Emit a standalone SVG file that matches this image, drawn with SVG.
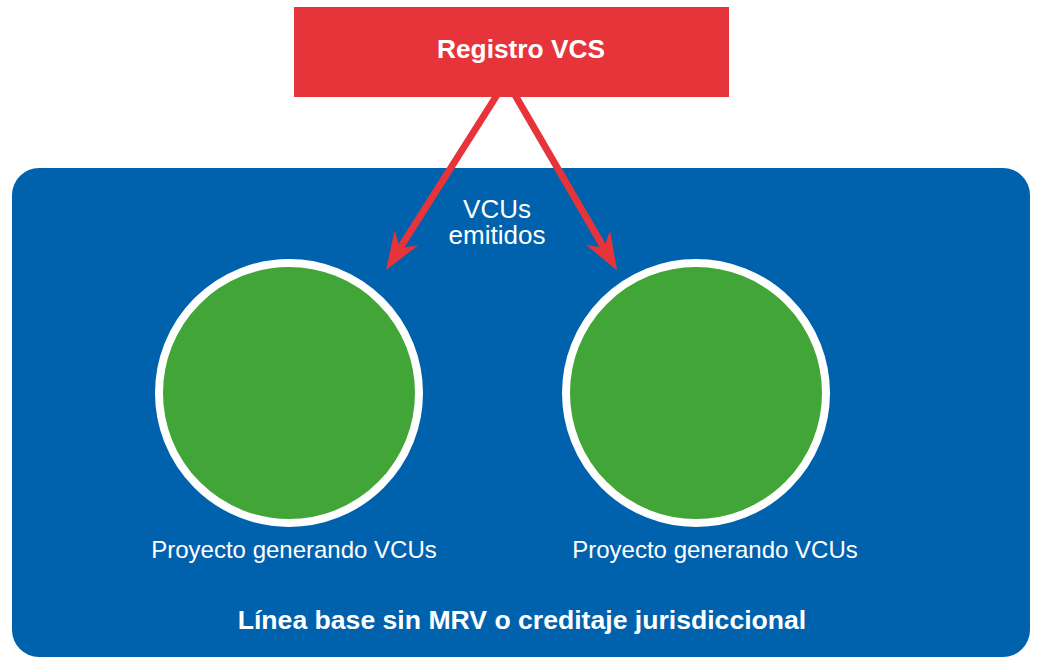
<svg xmlns="http://www.w3.org/2000/svg" width="1038" height="660" viewBox="0 0 1038 660">
<style>
.t{font-family:"Liberation Sans",Arial,sans-serif;fill:#fff;text-anchor:middle}
.b{font-weight:bold}
.proj{fill:#41A538;stroke:#fff;stroke-width:8}
.conn{stroke:#E6343A;stroke-width:7;fill:none}
</style>
<defs>
<marker id="ah" markerUnits="userSpaceOnUse" markerWidth="60" markerHeight="40" viewBox="-20 -20 60 40" refX="0" refY="0" orient="auto" overflow="visible">
<path d="M26,0 L-12,-14 L0,0 L-12,14 Z" fill="#E6343A"/>
</marker>
</defs>
<rect width="1038" height="660" fill="#fff"/>
<g id="baseline">
<rect x="12" y="168" width="1018" height="489" rx="27" fill="#0062AD"/>
<text class="t b" x="522" y="629" font-size="26.6">Línea base sin MRV o creditaje jurisdiccional</text>
</g>
<g id="registro">
<rect x="294" y="7" width="435" height="90" fill="#E6343A"/>
<text class="t b" x="521" y="58" font-size="26.3">Registro VCS</text>
</g>
<g id="proyecto1">
<circle class="proj" cx="289" cy="393" r="130"/>
<text class="t" x="294" y="558" font-size="24">Proyecto generando VCUs</text>
</g>
<g id="proyecto2">
<circle class="proj" cx="696" cy="393" r="130"/>
<text class="t" x="715" y="558" font-size="24">Proyecto generando VCUs</text>
</g>
<g id="connectors">
<line class="conn" x1="497" y1="95" x2="400" y2="248" marker-end="url(#ah)"/>
<line class="conn" x1="515" y1="95" x2="604" y2="248" marker-end="url(#ah)"/>
<text class="t" x="497" y="218" font-size="26">VCUs</text>
<text class="t" x="497" y="244" font-size="26">emitidos</text>
</g>
</svg>
